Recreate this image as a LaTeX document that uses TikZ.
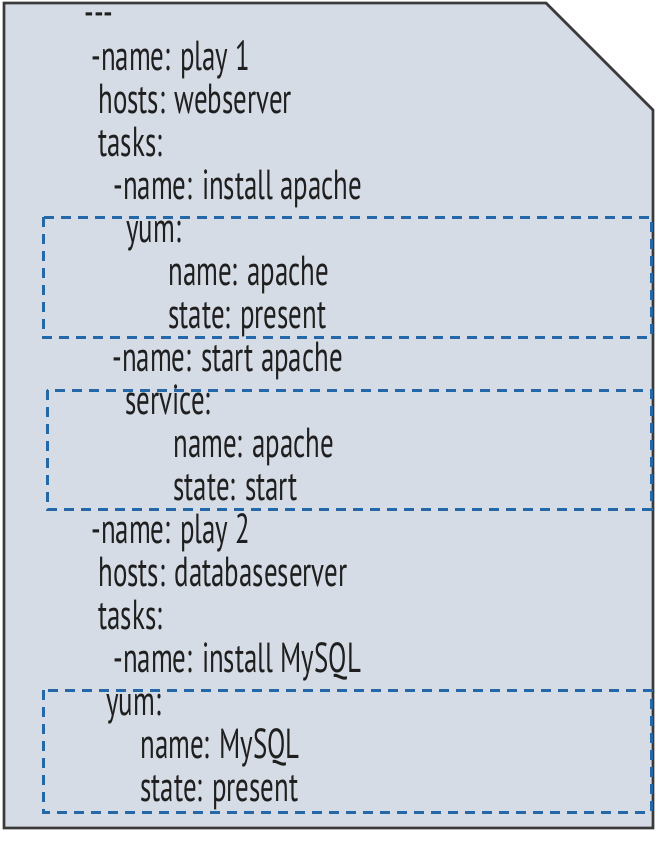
\documentclass[tikz,border=0pt]{standalone}
\usepackage{fontspec}
\newfontfamily\codefont{PT Sans}[FakeStretch=0.64]
\usetikzlibrary{positioning}
\definecolor{sheet}{HTML}{D6DCE5}
\definecolor{frame}{HTML}{3A3A3A}
\definecolor{dashblue}{HTML}{2468A8}
\tikzstyle{yaml} = [anchor=base west, inner sep=0pt, text=black!88,
    font=\codefont\fontsize{21}{25}\selectfont]
\tikzstyle{group} = [draw=dashblue, line width=1.5pt, dash pattern=on 5pt off 3.5pt]

\begin{document}
\begin{tikzpicture}[x=0.5pt, y=-0.5pt]
		\useasboundingbox (0,0) rectangle (668,848);
		% playbook sheet
		\draw[frame, fill=sheet, line width=1.3pt] (4,3) -- (546,3) -- (653,110) -- (653,828) -- (4,828) -- cycle;
		
		% task groups
		\draw[group] (43,217) rectangle (651,337);
		\draw[group] (47,390) rectangle (651,509);
		\draw[group] (43,690) rectangle (651,812);
		
		% playbook lines
		\node [yaml] (start) at (84,26) {{-}{-}{-}};
		\node [yaml] (play1) at (91,70) {-name: play 1};
		\node [yaml] (hosts1) at (98,113) {hosts: webserver};
		\node [yaml] (tasks1) at (98,156) {tasks:};
		\node [yaml] (task1) at (113,199) {-name: install apache};
		\node [yaml] (yum1) at (126,242) {yum:};
		\node [yaml] (name1) at (168,285) {name: apache};
		\node [yaml] (state1) at (168,328) {state: present};
		\node [yaml] (task2) at (112,371) {-name: start apache};
		\node [yaml] (service) at (125,414) {service:};
		\node [yaml] (name2) at (173,457) {name: apache};
		\node [yaml] (state2) at (173,500) {state: start};
		\node [yaml] (play2) at (91,543) {-name: play 2};
		\node [yaml] (hosts2) at (98,586) {hosts: databaseserver};
		\node [yaml] (tasks2) at (98,629) {tasks:};
		\node [yaml] (task3) at (113,672) {-name: install MySQL};
		\node [yaml] (yum2) at (106,715) {yum:};
		\node [yaml] (name3) at (140,758) {name: MySQL};
		\node [yaml] (state3) at (140,801) {state: present};
	\end{tikzpicture}
\end{document}
